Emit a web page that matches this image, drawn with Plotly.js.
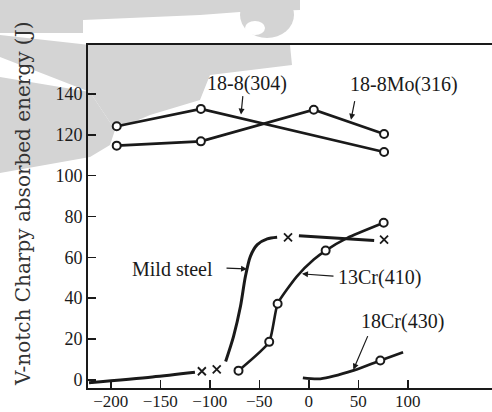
<!DOCTYPE html>
<html>
<head>
<meta charset="utf-8">
<script src="https://cdn.plot.ly/plotly-3.0.1.min.js"></script>
<style>html,body{margin:0;padding:0;background:#fff;}#chart{width:492px;height:412px;}</style>
</head>
<body>
<div id="chart"></div>
<script>
// ---- data (temperature in °C, energy in J) ----
const xTicks = [-200, -150, -100, -50, 0, 50, 100];
const yTicks = [0, 20, 40, 60, 80, 100, 120, 140];

const s304X = [-194, -109, 76];
const s304Y = [124.2, 132.7, 111.6];

const s316X = [-194, -109, 5, 76];
const s316Y = [114.7, 116.8, 132.3, 120.4];

const mildLineX = [-222, -158, -115, null, -84, -76, -69, -64, -59, -52, -42, -32, null, -10, 66];
const mildLineY = [-1.4, 1.4, 3.7, null, 9, 21.3, 36, 50.7, 60.5, 66.2, 69, 69.8, null, 70.6, 68.2];
const mildPtsX = [-108, -93, -21, 76];
const mildPtsY = [4.2, 5.1, 69.8, 68.7];

const cr13LineX = [-71, -40, -31.5, -12, 5, 17, 39, 75.6];
const cr13LineY = [4.5, 18.6, 37.3, 50.7, 58.9, 63.3, 69.5, 76.9];
const cr13PtsX = [-71, -40, -31.5, 17, 75.6];
const cr13PtsY = [4.5, 18.6, 37.3, 63.3, 76.9];

const cr18LineX = [-6, 11.6, 45.3, 72.2, 95.2];
const cr18LineY = [1.0, 0.5, 4.6, 9.5, 13.5];
const cr18PtsX = [72.2];
const cr18PtsY = [9.5];

const labels = ["18-8(304)", "18-8Mo(316)", "Mild steel", "13Cr(410)", "18Cr(430)"];
const yTitle = "V-notch Charpy absorbed energy (J)";

// ---- styling ----
const INK = '#1a1a1a';
const serif = 'Liberation Serif, Times New Roman, serif';
const circFill = {symbol: 'circle', size: 8, color: '#fff', line: {width: 2, color: INK}};
const cross = {symbol: 'x-thin', size: 8, color: INK, line: {width: 1.8, color: INK}};

const traces = [
  {x: s304X, y: s304Y, mode: 'lines+markers', line: {color: INK, width: 2.6}, marker: circFill},
  {x: s316X, y: s316Y, mode: 'lines+markers', line: {color: INK, width: 2.6}, marker: circFill},
  {x: mildLineX, y: mildLineY, mode: 'lines', line: {color: INK, width: 3, shape: 'spline', smoothing: 0.8}, connectgaps: false},
  {x: mildPtsX, y: mildPtsY, mode: 'markers', marker: cross},
  {x: cr13LineX, y: cr13LineY, mode: 'lines', line: {color: INK, width: 2.6, shape: 'spline', smoothing: 0.5}},
  {x: cr13PtsX, y: cr13PtsY, mode: 'markers', marker: circFill},
  {x: cr18LineX, y: cr18LineY, mode: 'lines', line: {color: INK, width: 2.8, shape: 'spline', smoothing: 0.8}},
  {x: cr18PtsX, y: cr18PtsY, mode: 'markers', marker: circFill}
];

const L = 88, T = 45, W = 404, H = 343, PW = 492, PH = 412;

// text labels and leader arrows
const textPos = [[-62, 145.1], [96.5, 144.6], [-138, 54.5], [71.2, 50.1], [94.4, 28.5]];
const arrowHead = [[-68.5, 129.9, 2, -20], [42.6, 127.4, 4, -20], [-62.4, 54.3, -22, -1], [-6.9, 51.9, 33, 2.4], [45, 5.0, 15, -35]];
const annotations = [];
labels.forEach((t, i) => {
  annotations.push({x: textPos[i][0], y: textPos[i][1], text: t, showarrow: false,
    font: {family: serif, size: 20, color: INK}, xanchor: 'center', yanchor: 'middle'});
  const a = arrowHead[i];
  annotations.push({x: a[0], y: a[1], ax: a[2], ay: a[3], text: '', showarrow: true,
    arrowhead: 2, arrowsize: 1, arrowwidth: 1.2, arrowcolor: INK});
});
// y-axis title (placed as rotated text, like the printed figure)
annotations.push({xref: 'paper', yref: 'paper', x: (23 - L) / W, y: (T + H - 204) / H,
  text: yTitle, textangle: -90, showarrow: false, xanchor: 'center', yanchor: 'middle',
  font: {family: 'DejaVu Serif, serif', size: 20, color: '#333'}});

// light-grey scan watermark, drawn as a background picture (page pixels)
const wmPolys = [
  [[0, 0], [300, 0], [300, 10], [240, 12], [200, 15], [83, 20], [83, 33], [0, 33]],
  [[0, 35], [90, 45], [290, 45], [292, 65], [210, 75], [200, 100], [150, 115], [115, 130], [90, 92], [0, 57]],
  [[0, 77], [90, 92], [115, 130], [110, 145], [90, 157], [0, 173]]
];
let svg = "<svg xmlns='http://www.w3.org/2000/svg' width='" + PW + "' height='" + PH + "' viewBox='0 0 " + PW + " " + PH + "'><g fill='rgb(212,212,212)'>";
wmPolys.forEach(p => { svg += "<polygon points='" + p.map(q => q.join(',')).join(' ') + "'/>"; });
svg += "<ellipse cx='267' cy='15' rx='27' ry='23'/></g><ellipse cx='255' cy='28' rx='10' ry='7' fill='#fff'/></svg>";

const layout = {
  width: PW, height: PH,
  margin: {l: L, r: 0, t: T, b: PH - T - H},
  paper_bgcolor: '#fff', plot_bgcolor: 'rgba(0,0,0,0)',
  showlegend: false,
  font: {family: serif, color: INK},
  xaxis: {range: [-223, 185], tickvals: xTicks, ticks: 'inside', ticklen: 8, tickwidth: 1.5, tickcolor: INK,
    showline: true, linewidth: 2, linecolor: INK, mirror: true, showgrid: false, zeroline: false,
    ticklabelstandoff: -3,
    tickfont: {family: serif, size: 17, color: INK}},
  yaxis: {range: [-4, 164], tickvals: yTicks, ticks: 'inside', ticklen: 8, tickwidth: 1.5, tickcolor: INK,
    showline: true, linewidth: 2, linecolor: INK, showgrid: false, zeroline: false,
    tickfont: {family: serif, size: 18, color: INK}},
  annotations: annotations,
  images: [{source: 'data:image/svg+xml;charset=utf-8,' + encodeURIComponent(svg),
    xref: 'paper', yref: 'paper', x: -L / W, y: (T + H) / H, sizex: PW / W, sizey: PH / H,
    xanchor: 'left', yanchor: 'top', sizing: 'stretch', layer: 'below'}]
};

Plotly.newPlot('chart', traces, layout, {displayModeBar: false, staticPlot: true});
</script>
</body>
</html>
